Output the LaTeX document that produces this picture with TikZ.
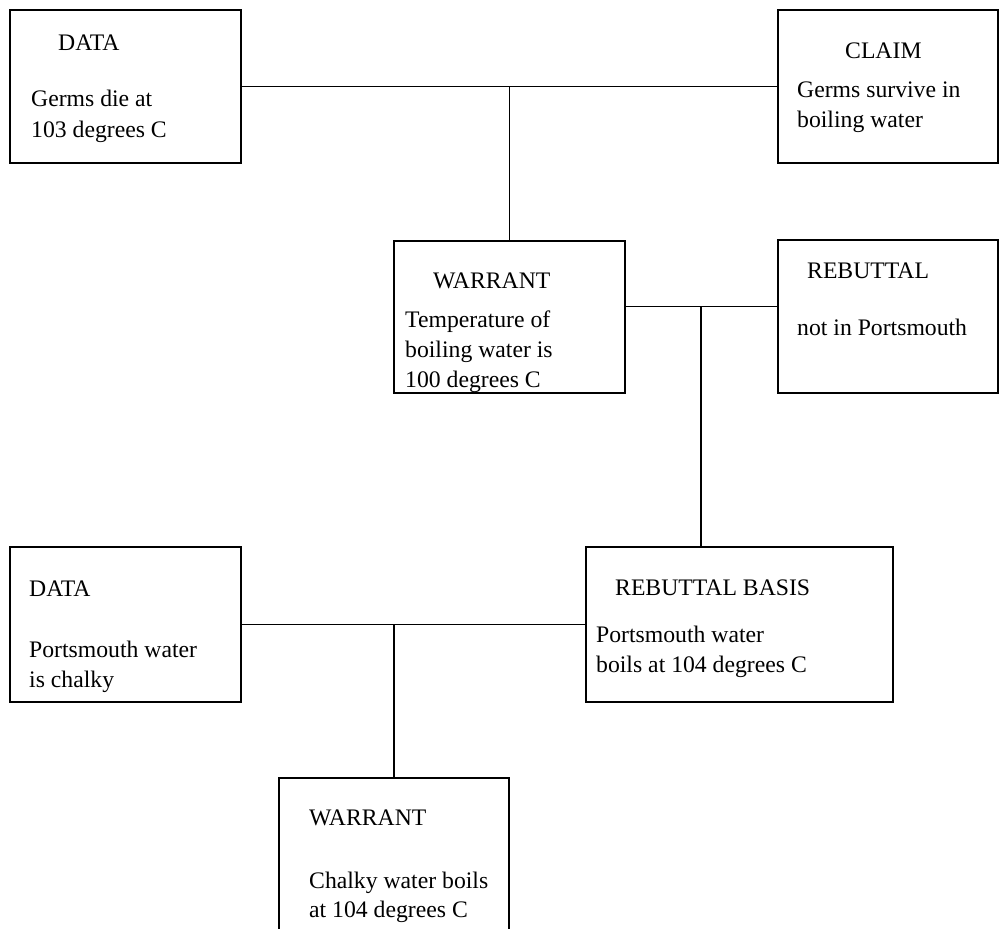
\documentclass[tikz,border=0pt]{standalone}
\usepackage{fontspec}
\setmainfont{Liberation Serif}
\begin{document}
\begin{tikzpicture}[x=1pt,y=-1pt,
  box/.style={draw=black, line width=1.1pt, rectangle, inner sep=0pt},
  txt/.style={anchor=base west, inner sep=0pt, font=\fontsize{23.7}{30}\selectfont},
  conn/.style={draw=black, line width=1.1pt}]
\useasboundingbox (0,0) rectangle (999,929);
\clip (0,0) rectangle (999,929);
% boxes
\node[box, minimum width=231pt, minimum height=153pt] (d1) at (125.5,86.5) {};
\node[box, minimum width=220pt, minimum height=153pt] (c1) at (888,86.5) {};
\node[box, minimum width=231pt, minimum height=152pt] (w1) at (509.5,317) {};
\node[box, minimum width=220pt, minimum height=153pt] (r1) at (888,316.5) {};
\node[box, minimum width=307pt, minimum height=155pt] (rb) at (739.5,624.5) {};
\node[box, minimum width=231pt, minimum height=155pt] (d2) at (125.5,624.5) {};
\node[box, minimum width=230pt, minimum height=162pt] (w2) at (394,859) {};
% texts
\node[txt] (d1a) at (58,50) {DATA};
\node[txt] (d1b) at (31,106) {Germs die at};
\node[txt] (d1c) at (31,137) {103 degrees C};
\node[txt] (c1a) at (845,58) {CLAIM};
\node[txt] (c1b) at (797,97) {Germs survive in};
\node[txt] (c1c) at (797,127) {boiling water};
\node[txt] (w1a) at (433,288) {WARRANT};
\node[txt] (w1b) at (405,327) {Temperature of};
\node[txt] (w1c) at (405,357) {boiling water is};
\node[txt] (w1d) at (405,387) {100 degrees C};
\node[txt] (r1a) at (807,278) {REBUTTAL};
\node[txt] (r1b) at (797,335) {not in Portsmouth};
\node[txt] (rba) at (615,595) {REBUTTAL BASIS};
\node[txt] (rbb) at (596,642) {Portsmouth water};
\node[txt] (rbc) at (596,672) {boils at 104 degrees C};
\node[txt] (d2a) at (29,596) {DATA};
\node[txt] (d2b) at (29,657) {Portsmouth water};
\node[txt] (d2c) at (29,687) {is chalky};
\node[txt] (w2a) at (309,825) {WARRANT};
\node[txt] (w2b) at (309,888) {Chalky water boils};
\node[txt] (w2c) at (309,917) {at 104 degrees C};
% connectors
\coordinate (j1) at (509.5,86.5);
\draw[conn] (d1.east) -- (c1.west);
\draw[conn] (j1) -- (w1.north);
\coordinate (j2) at (701,306.5);
\draw[conn] (w1.east |- j2) -- (r1.west |- j2);
\draw[conn] (j2) -- (j2 |- rb.north);
\coordinate (j3) at (394,624.5);
\draw[conn] (d2.east) -- (rb.west);
\draw[conn] (j3) -- (w2.north);
\end{tikzpicture}
\end{document}
